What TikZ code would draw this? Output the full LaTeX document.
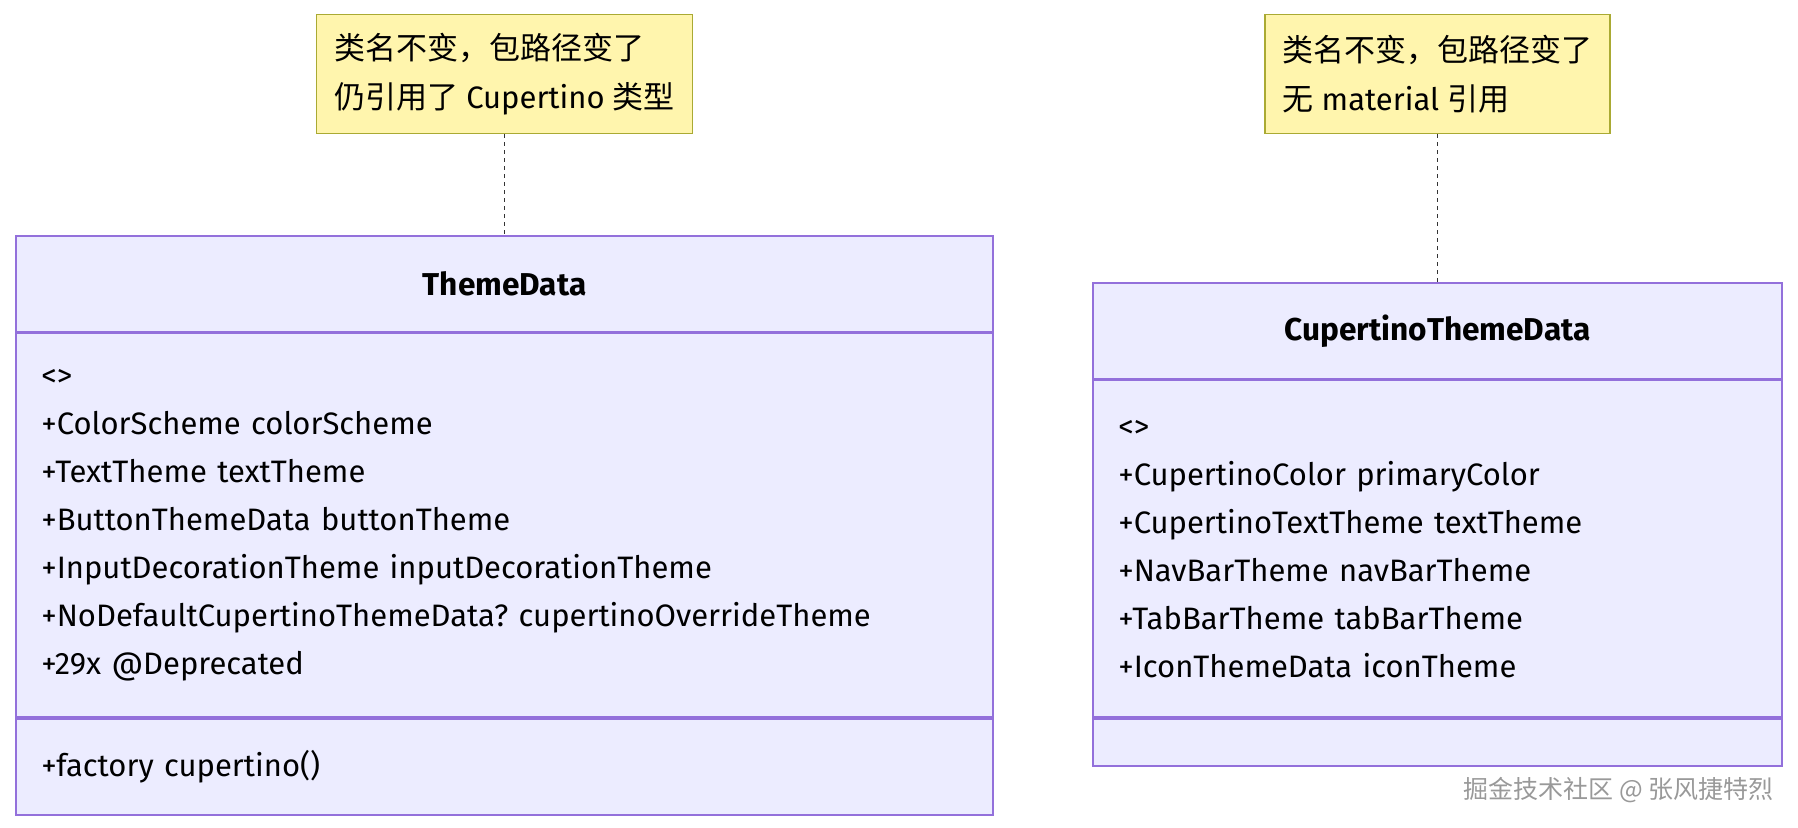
\documentclass[tikz,border=0pt]{standalone}
\usepackage{fontspec}
\setmainfont{Fira Sans}
\newfontfamily\cjk{Noto Sans CJK SC}
\usetikzlibrary{positioning}
\frenchspacing

\definecolor{classfill}{HTML}{ECECFF}
\definecolor{classline}{HTML}{9370DB}
\definecolor{notefill}{HTML}{FFF5AD}
\definecolor{noteline}{HTML}{AAAA33}

\begin{document}
\begin{tikzpicture}[x=0.5pt,y=-0.5pt,
  part/.style={draw=classline,fill=classfill,line width=0.8pt,inner xsep=12.65pt,inner ysep=0pt,font=\fontsize{15.5}{24}\selectfont},
  hdr/.style={part,font=\fontsize{15.8}{24}\selectfont\bfseries,minimum height=48pt},
  members/.style={part,align=left},
  note/.style={draw=noteline,fill=notefill,line width=0.75pt,align=left,inner xsep=6.75pt,minimum height=59.5pt,font=\fontsize{15.5}{24.5}\selectfont},
  link/.style={draw=black!80,line width=0.6pt,dash pattern=on 2pt off 2pt}]
\useasboundingbox (0,0) rectangle (1798,828);

% ThemeData
\node[hdr,minimum width=488.5pt] (theme) at (504.5,284) {ThemeData};
\node[members,text width=463.2pt,minimum height=191.75pt,below=0pt of theme] (themeattr) {<>\\
+ColorScheme colorScheme\\
+TextTheme textTheme\\
+ButtonThemeData buttonTheme\\
+InputDecorationTheme inputDecorationTheme\\
+NoDefaultCupertinoThemeData? cupertinoOverrideTheme\\
+29x @Deprecated};
\node[members,text width=463.2pt,minimum height=48.25pt,below=0pt of themeattr] (themeops) {+factory cupertino()};
\node[note,minimum width=188pt,above=50.5pt of theme] (themenote) {{\cjk 类名不变，包路径变了}\\{\cjk 仍引用了} Cupertino {\cjk 类型}};
\draw[link] (themenote) -- (theme);

% CupertinoThemeData
\node[hdr,minimum width=344.5pt] (cupertino) at (1437.5,331) {CupertinoThemeData};
\node[members,text width=319.2pt,minimum height=168.25pt,below=0pt of cupertino] (cupertinoattr) {<>\\
+CupertinoColor primaryColor\\
+CupertinoTextTheme textTheme\\
+NavBarTheme navBarTheme\\
+TabBarTheme tabBarTheme\\
+IconThemeData iconTheme};
\node[members,text width=319.2pt,minimum height=23.5pt,below=0pt of cupertinoattr] (cupertinoops) {};
\node[note,minimum width=172.5pt,above=74pt of cupertino] (cupertinonote) {{\cjk 类名不变，包路径变了}\\{\cjk 无} material {\cjk 引用}};
\draw[link] (cupertinonote) -- (cupertino);

\node[font=\cjk\fontsize{12.5}{14}\selectfont,text=gray!80,inner sep=0pt,anchor=east] (mark) at (1774,790) {掘金技术社区 @ 张风捷特烈};
\end{tikzpicture}
\end{document}
